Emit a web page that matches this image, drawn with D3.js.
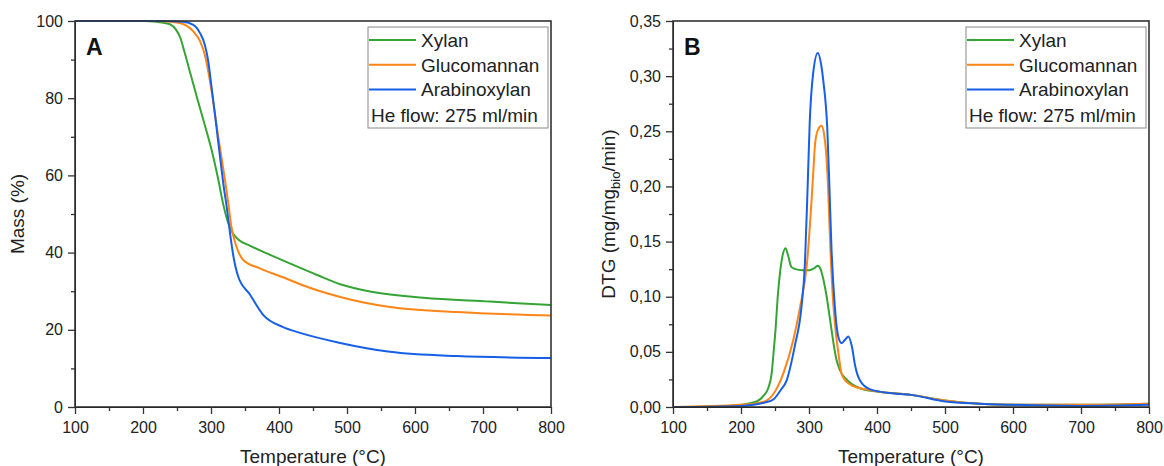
<!DOCTYPE html>
<html>
<head>
<meta charset="utf-8">
<script src="https://cdn.jsdelivr.net/npm/d3@7"></script>
<style>
  body { margin: 0; background: #fff; }
  svg { font-family: "Liberation Sans", Arial, sans-serif; }
</style>
</head>
<body>
<svg id="chart"></svg>
<script>
// series names + colours (legend order)
const seriesNames = ["Xylan", "Glucomannan", "Arabinoxylan"];
const seriesColors = ["#34a534", "#ff8517", "#175fe6"];
const flowNote = "He flow: 275 ml/min";

// x ticks shared by both panels
const tempTicks = [100, 200, 300, 400, 500, 600, 700, 800];
const tempMinor = [150, 250, 350, 450, 550, 650, 750];
const massTicks = [0, 20, 40, 60, 80, 100];
const massMinor = [10, 30, 50, 70, 90];
const dtgTicks = [0, 0.05, 0.1, 0.15, 0.2, 0.25, 0.3, 0.35];
const dtgMinor = [0.025, 0.075, 0.125, 0.175, 0.225, 0.275, 0.325];

// panel A: mass (%) vs temperature, [T, value]
const xylanMass = [[100,100],[200,100],[220,99.8],[232,99.5],[240,99.1],[248,97.9],[255,95.6],[260,92.6],[270,86.2],[280,79.8],[290,73.6],[300,67.2],[310,59.5],[318,52.5],[325,47.8],[332,45],[340,43.4],[357,41.8],[387,39.4],[421,36.8],[456,34.2],[490,31.8],[538,29.8],[612,28.3],[710,27.3],[800,26.4]];
const glucoMass = [[100,100],[220,100],[240,99.8],[254,99.5],[274,97.3],[284,94.7],[291,91.2],[296,86.9],[301,81.7],[306,75.6],[311,69.6],[316,64],[321,58.3],[325.5,52.7],[330,46.7],[337.5,41.5],[347.5,38.1],[372,35.9],[406,33.6],[431,31.8],[490,28.5],[563,25.9],[661,24.6],[800,23.7]];
const arabMass = [[100,100],[230,100],[259,99.8],[274,99],[284,96.8],[291,93.8],[296,89.5],[301,82.6],[306,75.6],[310,69.6],[313.5,64.5],[318,58],[323,51.9],[328,45],[333,39],[340,33.8],[357,29.2],[377,23.8],[406,20.7],[431,19.2],[490,16.6],[563,14.3],[661,13.2],[800,12.7]];

// panel B: DTG (mg/mg_bio/min) vs temperature, [T, value]
const xylanDtg = [[100,0],[180,0.001],[200,0.002],[223,0.005],[233,0.01],[240,0.017],[245,0.03],[248,0.05],[251,0.072],[254,0.1],[258,0.125],[261,0.137],[265.5,0.144],[269,0.138],[274,0.127],[280,0.125],[290,0.124],[301,0.124],[308,0.126],[313,0.128],[317,0.125],[321,0.116],[326,0.1],[331,0.079],[336,0.058],[340,0.044],[345,0.034],[356,0.0245],[375,0.017],[400,0.014],[450,0.011],[500,0.006],[550,0.003],[600,0.002],[700,0.002],[800,0.003]];
const glucoDtg = [[100,0],[200,0.002],[220,0.003],[238,0.006],[250,0.014],[262,0.03],[277,0.061],[287,0.091],[297,0.13],[303,0.18],[306,0.21],[309,0.239],[313,0.251],[318.5,0.255],[322,0.248],[325,0.232],[328,0.2],[331,0.15],[335,0.1],[339,0.07],[343,0.05],[348,0.03],[355,0.023],[365,0.019],[384,0.016],[400,0.014],[450,0.011],[500,0.006],[550,0.003],[600,0.002],[700,0.002],[800,0.003]];
const arabDtg = [[100,0],[200,0.001],[218,0.002],[235,0.004],[248,0.007],[258,0.015],[267,0.024],[279,0.055],[289,0.091],[294,0.13],[298,0.2],[301,0.257],[306,0.302],[313,0.321],[318,0.31],[321,0.296],[327,0.251],[330,0.2],[333,0.145],[338,0.091],[343,0.064],[348,0.058],[353,0.061],[358,0.064],[363,0.055],[368,0.037],[375,0.024],[390,0.016],[429,0.012],[450,0.011],[500,0.005],[550,0.003],[600,0.002],[700,0.001],[800,0.002]];

const w = 1164;
const h = 466;
const svg = d3.select("#chart").attr("width", w).attr("height", h);

const drawPanel = (opts) => {
  const { left, right, top, bottom, yDomain, yTicks, yMinor, yFormat, letter, series } = opts;
  const xScale = d3.scaleLinear().domain([100, 800]).range([left, right]);
  const yScale = d3.scaleLinear().domain(yDomain).range([bottom, top]);
  const g = svg.append("g");

  // curves
  const line = d3.line()
    .x((d) => xScale(d[0]))
    .y((d) => yScale(d[1]))
    .curve(d3.curveMonotoneX);
  series.forEach((s, i) => {
    g.append("path")
      .datum(s)
      .attr("fill", "none")
      .attr("stroke", seriesColors[i])
      .attr("stroke-width", 2)
      .attr("d", line);
  });

  // minor ticks
  g.append("g")
    .attr("transform", "translate(0," + bottom + ")")
    .call(d3.axisBottom(xScale).tickValues(tempMinor).tickSize(4).tickFormat("").tickSizeOuter(0))
    .call((a) => a.select(".domain").remove());
  g.append("g")
    .attr("transform", "translate(" + left + ",0)")
    .call(d3.axisLeft(yScale).tickValues(yMinor).tickSize(4).tickFormat("").tickSizeOuter(0))
    .call((a) => a.select(".domain").remove());

  // major axes
  const xAxis = g.append("g")
    .attr("transform", "translate(0," + bottom + ")")
    .call(d3.axisBottom(xScale).tickValues(tempTicks).tickSize(7).tickPadding(8).tickSizeOuter(0).tickFormat(d3.format("d")));
  const yAxis = g.append("g")
    .attr("transform", "translate(" + left + ",0)")
    .call(d3.axisLeft(yScale).tickValues(yTicks).tickSize(7).tickPadding(5).tickSizeOuter(0).tickFormat(yFormat));
  [xAxis, yAxis].forEach((a) => {
    a.selectAll("text").style("font-size", "16px").attr("fill", "#222");
  });
  g.selectAll(".tick line").attr("stroke", "#333").attr("stroke-width", 1.3);

  // frame
  g.append("rect")
    .attr("x", left)
    .attr("y", top)
    .attr("width", right - left)
    .attr("height", bottom - top)
    .attr("fill", "none")
    .attr("stroke", "#333")
    .attr("stroke-width", 1.6);

  // panel letter
  g.append("text")
    .attr("x", left + 11)
    .attr("y", top + 34)
    .style("font-size", "23px")
    .style("font-weight", "bold")
    .attr("fill", "#111")
    .text(letter);

  // x title
  g.append("text")
    .attr("x", (left + right) / 2)
    .attr("y", 463)
    .attr("text-anchor", "middle")
    .style("font-size", "19px")
    .attr("fill", "#222")
    .text("Temperature (°C)");

  // legend
  const lx = right - 183;
  const leg = g.append("g");
  leg.append("rect")
    .attr("x", lx)
    .attr("y", top + 6)
    .attr("width", 180)
    .attr("height", 101)
    .attr("fill", "#fff")
    .attr("stroke", "#888")
    .attr("stroke-width", 1);
  seriesNames.forEach((name, i) => {
    const cy = top + 19 + i * 24.7;
    leg.append("line")
      .attr("x1", lx + 1)
      .attr("x2", lx + 48)
      .attr("y1", cy)
      .attr("y2", cy)
      .attr("stroke", seriesColors[i])
      .attr("stroke-width", 2);
    leg.append("text")
      .attr("x", lx + 53)
      .attr("y", cy + 7)
      .style("font-size", "19px")
      .attr("fill", "#222")
      .text(name);
  });
  leg.append("text")
    .attr("x", lx + 3)
    .attr("y", top + 100.5)
    .style("font-size", "19px")
    .attr("fill", "#222")
    .text(flowNote);

  return g;
};

const commaFmt = (d) => d3.format(".2f")(d).replace(".", ",");

const gA = drawPanel({
  left: 75, right: 551, top: 21, bottom: 407,
  yDomain: [0, 100], yTicks: massTicks, yMinor: massMinor,
  yFormat: d3.format("d"), letter: "A",
  series: [xylanMass, glucoMass, arabMass],
});
gA.append("text")
  .attr("transform", "translate(24,214) rotate(-90)")
  .attr("text-anchor", "middle")
  .style("font-size", "19px")
  .attr("fill", "#222")
  .text("Mass (%)");

const gB = drawPanel({
  left: 673, right: 1149, top: 21, bottom: 407,
  yDomain: [0, 0.35], yTicks: dtgTicks, yMinor: dtgMinor,
  yFormat: commaFmt, letter: "B",
  series: [xylanDtg, glucoDtg, arabDtg],
});
const dtgTitle = gB.append("text")
  .attr("transform", "translate(615,214) rotate(-90)")
  .attr("text-anchor", "middle")
  .style("font-size", "19px")
  .attr("fill", "#222");
dtgTitle.append("tspan").text("DTG (mg/mg");
dtgTitle.append("tspan").attr("dy", 5).style("font-size", "13px").text("bio");
dtgTitle.append("tspan").attr("dy", -5).text("/min)");
</script>
</body>
</html>
